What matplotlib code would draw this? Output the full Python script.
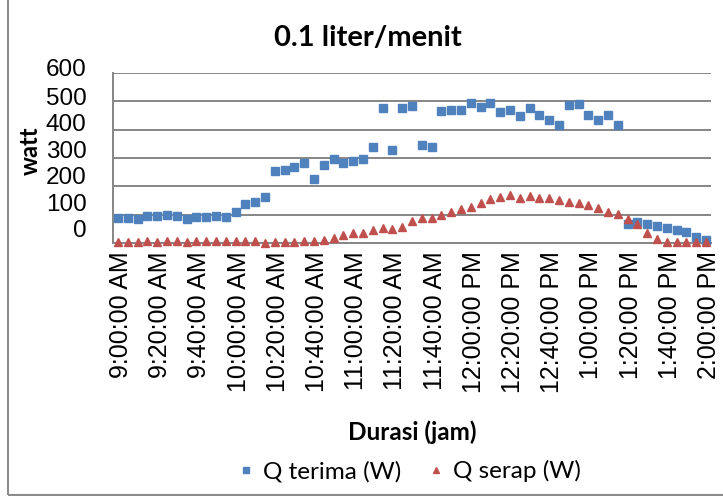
import matplotlib
matplotlib.use('Agg')
import matplotlib.pyplot as plt
import matplotlib.transforms as mtransforms
from matplotlib.patches import Rectangle

# minutes after 9:00 AM, one reading every 5 minutes (category positions)
minutes = list(range(0, 301, 5))

q_terima = [87, 89, 84, 95, 97, 99, 94, 84, 93, 93,
            97, 92, 108, 136, 143, 162, 255, 258, 269, 281,
            227, 275, 295, 281, 288, 298, 339, 476, 329, 478,
            485, 346, 339, 466, 471, 468, 493, 481, 495, 464,
            471, 448, 478, 450, 433, 418, 486, 492, 453, 433,
            452, 418, 66, 73, 67, 61, 52, 45, 38, 21,
            12]

q_serap = [2, 2, 2, 8, 2, 8, 8, 2, 8, 8,
           8, 8, 8, 8, 8, 1, 4, 4, 4, 7,
           7, 11, 19, 27, 34, 36, 45, 52, 50, 57,
           79, 89, 89, 100, 109, 121, 128, 141, 155, 163,
           170, 158, 167, 160, 160, 151, 145, 142, 134, 124,
           110, 103, 86, 66, 36, 15, 3, 3, 3, 3,
           3]

tick_minutes = [0, 20, 40, 60, 80, 100, 120, 140, 160, 180, 200, 220, 240, 260, 280, 300]
tick_labels = ['9:00:00 AM', '9:20:00 AM', '9:40:00 AM', '10:00:00 AM', '10:20:00 AM',
               '10:40:00 AM', '11:00:00 AM', '11:20:00 AM', '11:40:00 AM', '12:00:00 PM',
               '12:20:00 PM', '12:40:00 PM', '1:00:00 PM', '1:20:00 PM', '1:40:00 PM',
               '2:00:00 PM']
y_ticks = [0, 100, 200, 300, 400, 500, 600]
y_labels = ['0', '100', '200', '300', '400', '500', '600']

W, H = 723, 496
fig = plt.figure(figsize=(W / 100, H / 100), dpi=100)

# outer chart border
fig.patches.append(Rectangle((8 / W, 1.5 / H), 2, 2, transform=fig.transFigure,
                             fill=False, ec='#8c8c8c', lw=1.5, zorder=0))

ax = fig.add_axes([113 / W, (H - 243) / H, (711 - 113) / W, (243 - 73) / H])
ax.set_xlim(-2.5, 302.5)
ax.set_ylim(0, 600)
ax.set_axisbelow(True)
ax.yaxis.grid(True, color='#868686', lw=1.4)
for s in ['top', 'right']:
    ax.spines[s].set_visible(False)
for s in ['left', 'bottom']:
    ax.spines[s].set_color('#868686')
    ax.spines[s].set_linewidth(1.4)

ax.plot(minutes, q_terima, ls='none', marker='s', ms=5.2, color='#4F81BD',
        mec='#4F81BD', label='Q terima (W)', clip_on=False, zorder=3)
ax.plot(minutes, q_serap, ls='none', marker='^', ms=5.8, color='#C0504D',
        mec='#C0504D', label='Q serap (W)', clip_on=False, zorder=4)

ax.set_xticks(tick_minutes, tick_labels, rotation=90, fontsize=18,
              family='Liberation Sans')
ax.tick_params(axis='x', length=0, pad=6)
ax.set_yticks(y_ticks, y_labels, fontsize=17.5, family='Liberation Sans')
ax.tick_params(axis='y', length=0, pad=19)

# Excel squeezes the value labels slightly upward relative to gridlines
offsets_px = [14, 12, 11, 9, 7, 5, 5]
for lbl, off in zip(ax.get_yticklabels(), offsets_px):
    lbl.set_transform(lbl.get_transform() +
                      mtransforms.ScaledTranslation(0, off / fig.dpi, fig.dpi_scale_trans))
for lbl in ax.get_xticklabels():
    lbl.set_transform(lbl.get_transform() +
                      mtransforms.ScaledTranslation(3 / fig.dpi, 0, fig.dpi_scale_trans))

fig.text(368 / W, 1 - 38 / H, '0.1 liter/menit', ha='center', va='center',
         fontsize=21, fontweight='bold', family='Lato')
fig.text(30 / W, 1 - 151 / H, 'watt', ha='center', va='center', rotation=90,
         fontsize=17, fontweight='bold', family='Lato')
fig.text(412 / W, 1 - 432 / H, 'Durasi (jam)', ha='center', va='center',
         fontsize=17.5, fontweight='bold', family='Lato')

fig.legend(loc='center', bbox_to_anchor=(408 / W, 1 - 471 / H), ncol=2,
           frameon=False, prop={'family': 'Lato', 'size': 17.5}, markerscale=0.8,
           handletextpad=0.25, columnspacing=1.0, handlelength=0.9)

fig.savefig('out.png', dpi=100)
